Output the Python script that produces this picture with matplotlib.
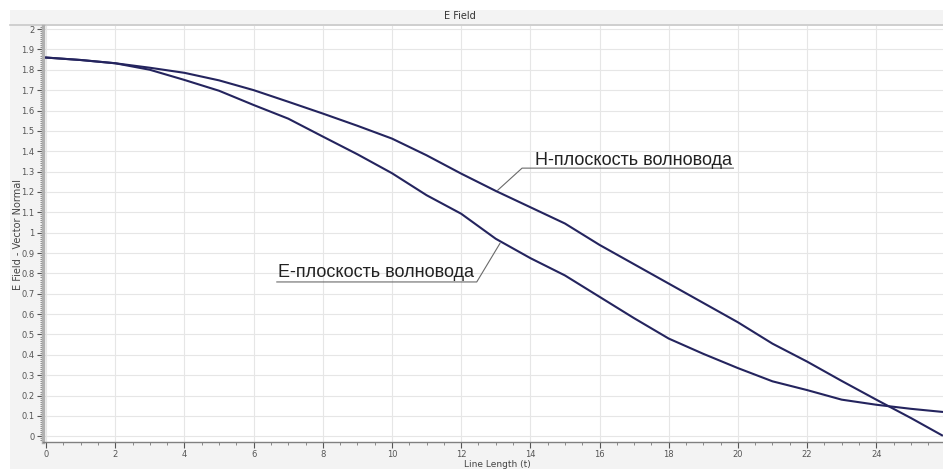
import numpy as np
import matplotlib.pyplot as plt
from matplotlib.patches import Rectangle
from matplotlib.ticker import MultipleLocator, FuncFormatter

# line length (t)
t = [0, 1, 2, 3, 4, 5, 6, 7, 8, 9, 10, 11, 12, 13, 14, 15, 16, 17, 18, 19,
     20, 21, 22, 23, 24, 25, 25.9]
# H-plane of the waveguide (upper curve)
h_plane = [1.86, 1.848, 1.832, 1.81, 1.785, 1.748, 1.70, 1.643, 1.585, 1.525,
           1.462, 1.38, 1.29, 1.205, 1.125, 1.045, 0.94, 0.845, 0.75, 0.655,
           0.56, 0.455, 0.367, 0.272, 0.18, 0.09, 0.005]
# E-plane of the waveguide (lower curve)
e_plane = [1.86, 1.848, 1.832, 1.80, 1.75, 1.697, 1.627, 1.56, 1.472, 1.385,
           1.292, 1.184, 1.093, 0.97, 0.875, 0.79, 0.685, 0.58, 0.48, 0.405,
           0.335, 0.27, 0.227, 0.18, 0.155, 0.135, 0.12]

h_label = "H-плоскость волновода"
e_label = "E-плоскость волновода"

W, H = 943, 469
fig = plt.figure(figsize=(W / 100, H / 100), dpi=100)
fig.patch.set_facecolor("white")
fig.patches.append(Rectangle((10 / W, 0), 1, 1 - 10 / H, transform=fig.transFigure,
                             facecolor="#f3f3f3", edgecolor="none", zorder=-10))
# thin line under the title bar
fig.lines.append(plt.Line2D([10 / W, 1], [1 - 25 / H, 1 - 25 / H], transform=fig.transFigure,
                            color="#c8c8c8", lw=1.2, zorder=-5))

left, right, top, bottom = 43, 943, 26, 442
ax = fig.add_axes([left / W, 1 - bottom / H, (right - left) / W, (bottom - top) / H])
ax.set_facecolor("white")

line_color = "#24245e"
ax.plot(t, h_plane, color=line_color, lw=1.5, zorder=3)
ax.plot(t, e_plane, color=line_color, lw=1.5, zorder=3)

ax.set_xlim(-0.09, 25.93)
ax.set_ylim(-0.028, 2.015)

ax.xaxis.set_major_locator(MultipleLocator(2))
ax.xaxis.set_minor_locator(MultipleLocator(0.5))
ax.yaxis.set_major_locator(MultipleLocator(0.1))
ax.yaxis.set_minor_locator(MultipleLocator(0.01))
ax.yaxis.set_major_formatter(FuncFormatter(lambda v, p: f"{v:g}" if v >= -1e-9 else ""))
ax.xaxis.set_major_formatter(FuncFormatter(lambda v, p: f"{v:g}"))

ax.grid(True, which="major", color="#e6e6e6", lw=0.8)
ax.set_axisbelow(True)

for s in ["top", "right"]:
    ax.spines[s].set_visible(False)
ax.spines["left"].set_color("#b0b0b0")
ax.spines["left"].set_linewidth(2.5)
ax.spines["bottom"].set_color("#808080")
ax.spines["bottom"].set_linewidth(1.0)

ax.tick_params(axis="both", which="major", labelsize=6, colors="#555555", length=4, width=0.8)
ax.tick_params(axis="both", which="minor", colors="#777777", length=2.5, width=0.6)
ax.tick_params(axis="x", pad=2)
ax.tick_params(axis="y", pad=2)

ax.set_xlabel("Line Length (t)", fontsize=6.5, color="#444444")
ax.xaxis.set_label_coords(0.505, -22 / (bottom - top), transform=ax.transAxes)
ax.xaxis.label.set_va("center")
ax.set_ylabel("E Field - Vector Normal", fontsize=7, color="#444444")
ax.yaxis.set_label_coords(-25 / (right - left), 0.5, transform=ax.transAxes)
ax.yaxis.label.set_va("center")
fig.text(460 / W, 1 - 16 / H, "E Field", fontsize=7, color="#333333", ha="center", va="center")

# callout labels with underline and leader lines
ann_color = "#6a6a6a"
ax.text(14.13, 1.332, h_label, fontsize=13, family="Liberation Sans", color="#222222",
        ha="left", va="baseline", zorder=4)
ax.plot([13.06, 13.76, 19.87], [1.209, 1.317, 1.317], color=ann_color, lw=0.8, zorder=2)

ax.text(6.71, 0.781, e_label, fontsize=13, family="Liberation Sans", color="#222222",
        ha="left", va="baseline", zorder=4)
ax.plot([6.67, 12.45, 13.12], [0.758, 0.758, 0.947], color=ann_color, lw=0.8, zorder=2)

fig.savefig("out.png", dpi=100)
